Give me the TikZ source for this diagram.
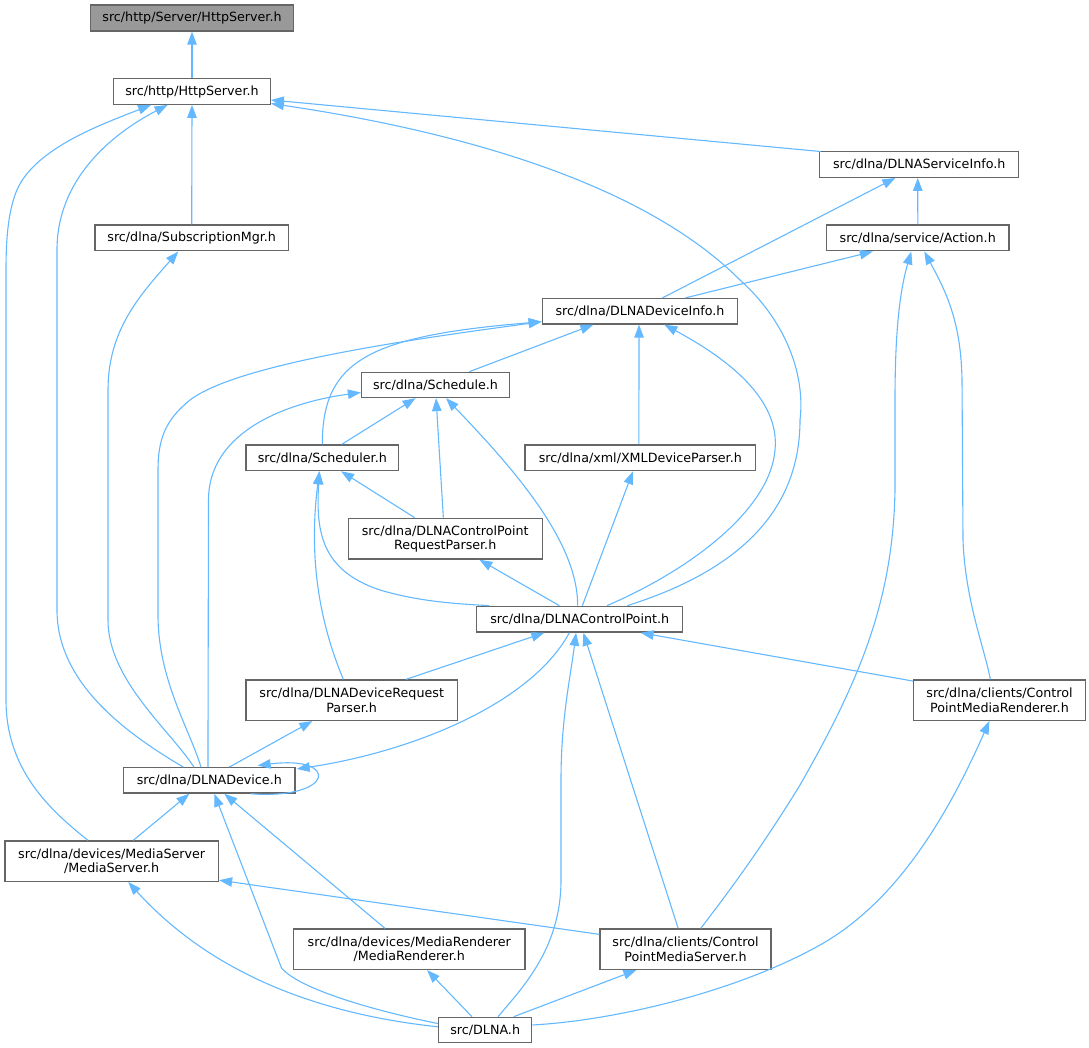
\documentclass[tikz,border=0pt]{standalone}
\usepackage{fontspec}
\setmainfont{DejaVu Sans}
\usetikzlibrary{arrows.meta,calc}
\definecolor{edgeblue}{HTML}{63B8FF}
\definecolor{boxgray}{HTML}{666666}
\definecolor{topfill}{HTML}{999999}
\tikzset{
  box/.style={draw=boxgray, line width=1.3pt, fill=white, inner sep=0pt, align=center,
    font=\fontsize{12.7}{14.3}\selectfont, text=black},
  edge/.style={draw=edgeblue, line width=1.1pt, {Triangle[length=13pt,width=9.5pt]}-},
}
\begin{document}
\begin{tikzpicture}[x=1pt,y=-1pt]
\useasboundingbox (0,0) rectangle (1089,1048);
% nodes
\node[box, fill=topfill, minimum width=203, minimum height=26] (n0) at (192,18) {src/http/Server/HttpServer.h};
\node[box, minimum width=156.5, minimum height=25.5] (n1) at (192,91.5) {src/http/HttpServer.h};
\node[box, minimum width=193.5, minimum height=25.7] (n2) at (191.7,238) {src/dlna/SubscriptionMgr.h};
\node[box, minimum width=199.2, minimum height=25.6] (n3) at (919.2,164.5) {src/dlna/DLNAServiceInfo.h};
\node[box, minimum width=182.5, minimum height=25.7] (n4) at (917.7,238) {src/dlna/service/Action.h};
\node[box, minimum width=195.4, minimum height=25.4] (n5) at (640,311.3) {src/dlna/DLNADeviceInfo.h};
\node[box, minimum width=148, minimum height=25.2] (n6) at (435.5,384.9) {src/dlna/Schedule.h};
\node[box, minimum width=152.6, minimum height=25.6] (n7) at (322.3,457.8) {src/dlna/Scheduler.h};
\node[box, minimum width=230.6, minimum height=25.6] (n8) at (640.3,457.8) {src/dlna/xml/XMLDeviceParser.h};
\node[box, minimum width=194, minimum height=40.7] (n9) at (445.2,538.7) {src/dlna/DLNAControlPoint\\RequestParser.h};
\node[box, minimum width=206, minimum height=25.8] (n10) at (579.7,619.2) {src/dlna/DLNAControlPoint.h};
\node[box, minimum width=211.4, minimum height=40.4] (n11) at (351.7,700.2) {src/dlna/DLNADeviceRequest\\Parser.h};
\node[box, minimum width=172, minimum height=40.4] (n12) at (999.5,700.2) {src/dlna/clients/Control\\PointMediaRenderer.h};
\node[box, minimum width=171.4, minimum height=25.4] (n13) at (209.3,780.4) {src/dlna/DLNADevice.h};
\node[box, minimum width=213.6, minimum height=40.4] (n14) at (111.7,861.2) {src/dlna/devices/MediaServer\\/MediaServer.h};
\node[box, minimum width=231.2, minimum height=40.4] (n15) at (409.3,949.2) {src/dlna/devices/MediaRenderer\\/MediaRenderer.h};
\node[box, minimum width=171, minimum height=40.4] (n16) at (685.5,949.2) {src/dlna/clients/Control\\PointMediaServer.h};
\node[box, minimum width=93.2, minimum height=25] (n17) at (485.2,1029.8) {src/DLNA.h};
% edges (arrow at the included file)
\draw[edge] (n0.south) -- (n1.north);
\draw[edge] (n1.south) -- (n2.north);
\draw[edge] ($(n1.east)+(0,8.5)$) -- ($(n3.north west)+(2,0.5)$);
\draw[edge] ($(n1.east)+(0,12)$) .. controls (450,130) and (640,180) .. (740,280)
  .. controls (790,325) and (805,380) .. (800,420)
  .. controls (800,510) and (740,570) .. ($(n10.north west)+(151.3,0)$);
\draw[edge] ($(n1.south west)+(38,0)$) .. controls (100,125) and (30,150) .. (15,195)
  .. controls (8,215) and (6,240) .. (6,270) -- (6,700)
  .. controls (6,770) and (50,810) .. ($(n14.north west)+(83.7,0)$);
\draw[edge] ($(n1.south west)+(54.5,0)$) .. controls (110,135) and (57,180) .. (57,250) -- (57,610)
  .. controls (57,680) and (120,730) .. ($(n13.north west)+(60.4,0)$);
\draw[edge] ($(n2.south west)+(84,0)$) .. controls (140,295) and (108,330) .. (108,390) -- (108,620)
  .. controls (108,680) and (170,730) .. ($(n13.north west)+(71,0)$);
\draw[edge] ($(n5.west)+(0,10.4)$) .. controls (430,337) and (240,362) .. (190,400)
  .. controls (165,420) and (158,440) .. (158,470) -- (158,615)
  .. controls (158,680) and (190,730) .. ($(n13.north west)+(78,0)$);
\draw[edge] ($(n5.west)+(0,10.4)$) .. controls (370,336) and (322,360) .. ($(n7.north west)+(77,0)$);
\draw[edge] ($(n6.west)+(0,7.6)$) .. controls (290,402) and (208.5,430) .. (208.5,500) -- ($(n13.north west)+(85,0)$);
\draw[edge] ($(n11.south west)+(67,0)$) -- ($(n13.north west)+(106.4,0)$);
\draw[edge] ($(n13.east)+(1,-11.4)$) .. controls (410,752) and (530,705) .. ($(n10.south west)+(93.3,0)$);
\draw[edge] ($(n13.north east)+(-38,-1.5)$) .. controls (340,755) and (335,800) .. ($(n13.south east)+(-45,0)$);
\draw[edge] ($(n13.south west)+(66.4,0)$) -- ($(n14.north west)+(129,0)$);
\draw[edge] ($(n13.south west)+(91.4,0)$) -- (281.5,968) .. controls (300,990) and (380,1012) .. ($(n17.west)+(0,-6.3)$);
\draw[edge] ($(n13.south west)+(101.4,0)$) -- ($(n15.north west)+(92,0)$);
\draw[edge] ($(n14.south west)+(124,0)$) .. controls (190,950) and (280,1010) .. ($(n17.west)+(0,-3)$);
\draw[edge] ($(n14.east)+(0,19)$) -- ($(n16.north west)+(0,6)$);
\draw[edge] ($(n15.south west)+(134,0)$) -- ($(n17.north west)+(34,0)$);
\draw[edge] ($(n16.south west)+(37,0)$) -- ($(n17.north west)+(75.8,0)$);
\draw[edge] ($(n10.south west)+(100,0)$) .. controls (570,680) and (561,720) .. (561,780) -- (561,880)
  .. controls (561,950) and (520,990) .. ($(n17.north west)+(60.2,0)$);
\draw[edge] ($(n10.south west)+(107.3,0)$) -- ($(n16.north west)+(78.8,0)$);
\draw[edge] ($(n10.south east)+(-42.7,0)$) -- ($(n12.north west)+(0,1.7)$);
\draw[edge] ($(n10.south west)+(68.3,0)$) -- ($(n11.north west)+(160.7,0)$);
\draw[edge] ($(n4.south west)+(85.5,0)$) .. controls (900,290) and (895,330) .. (895,400) -- (895,490)
  .. controls (893,600) and (860,680) .. (800,785)
  .. controls (760,850) and (730,890) .. ($(n16.north west)+(101.4,0)$);
\draw[edge] ($(n4.south west)+(98.5,0)$) .. controls (945,290) and (961,320) .. (962,380) -- (963,540)
  .. controls (965,600) and (985,650) .. ($(n12.north west)+(77.5,0)$);
\draw[edge] ($(n3.south west)+(76.4,0)$) -- ($(n5.north west)+(120.7,0)$);
\draw[edge] ($(n4.south west)+(47,0)$) -- ($(n5.north west)+(143.5,0)$);
\draw[edge] ($(n3.south west)+(98.8,0)$) -- ($(n4.north west)+(92,0)$);
\draw[edge] ($(n5.south west)+(51.7,0)$) -- ($(n6.north west)+(108.5,0)$);
\draw[edge] ($(n5.south west)+(97.4,0)$) -- ($(n8.north west)+(114.5,0)$);
\draw[edge] ($(n5.south west)+(122.7,0)$) .. controls (730,360) and (780,400) .. (775,450)
  .. controls (770,510) and (690,570) .. ($(n10.north west)+(130.9,0)$);
\draw[edge] ($(n6.south west)+(54.7,0)$) -- ($(n7.north west)+(96.4,0)$);
\draw[edge] ($(n6.south west)+(75.2,0)$) -- ($(n9.north west)+(95.8,0)$);
\draw[edge] ($(n6.south west)+(85.2,0)$) .. controls (510,465) and (578,540) .. ($(n10.north west)+(101.6,0)$);
\draw[edge] ($(n9.south west)+(131.8,0)$) -- ($(n10.north west)+(83.3,0)$);
\draw[edge] ($(n8.south west)+(108.6,0)$) -- ($(n10.north west)+(106.3,0)$);
\draw[edge] ($(n7.south west)+(95.7,0)$) -- ($(n9.north west)+(67.2,0)$);
\draw[edge] ($(n7.south west)+(74,0)$) .. controls (316,530) and (320,570) .. (380,590)
  .. controls (420,602) and (460,604) .. ($(n10.north west)+(13.3,0)$);
\draw[edge] ($(n7.south west)+(74,0)$) .. controls (312,530) and (310,600) .. ($(n11.north west)+(98,0)$);
\draw[edge] ($(n12.south west)+(76.5,0)$) .. controls (950,810) and (900,900) .. (820,945)
  .. controls (740,990) and (620,1020) .. ($(n17.east)+(0,-4.8)$);
\end{tikzpicture}
\end{document}
